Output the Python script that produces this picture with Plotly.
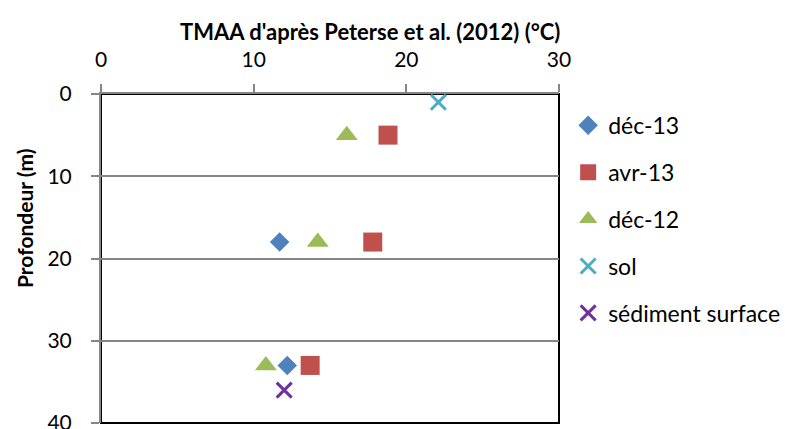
import plotly.graph_objects as go

# TMAA (°C) versus depth (m) for each sampling campaign
series_names = ["déc-13", "avr-13", "déc-12", "sol", "sédiment surface"]
tmaa_dec13 = [11.7, 12.2]
depth_dec13 = [18, 33]
tmaa_avr13 = [18.8, 17.8, 13.7]
depth_avr13 = [5, 18, 33]
tmaa_dec12 = [16.1, 14.2, 10.8]
depth_dec12 = [5, 18, 33]
tmaa_sol = [22.1]
depth_sol = [1]
tmaa_sed = [12.0]
depth_sed = [36]

x_ticks = [0, 10, 20, 30]
y_ticks = [0, 10, 20, 30, 40]

FONT = "Lato"
fig = go.Figure()

styles = [
    (tmaa_dec13, depth_dec13, "diamond", 15, "#4F81BD"),
    (tmaa_avr13, depth_avr13, "square", 19, "#C0504D"),
    (tmaa_dec12, depth_dec12, "triangle-up", 19, "#9BBB59"),
    (tmaa_sol, depth_sol, "x-thin", 15, "#4BACC6"),
    (tmaa_sed, depth_sed, "x-thin", 15, "#7030A0"),
]
for name, (xs, ys, sym, size, col) in zip(series_names, styles):
    marker = dict(symbol=sym, size=size, color=col)
    if sym == "x-thin":
        marker["line"] = dict(color=col, width=3)
    else:
        marker["line"] = dict(width=0)
    fig.add_trace(go.Scatter(x=xs, y=ys, mode="markers", name=name,
                             legendgroup=name, marker=marker))

fig.update_layout(
    width=791, height=429,
    margin=dict(l=101, r=232, t=94, b=6),
    paper_bgcolor="white", plot_bgcolor="white",
    font=dict(family=FONT, size=21, color="black"),
    showlegend=True,
    legend=dict(x=1.02, y=0.97, xanchor="left", yanchor="top",
                font=dict(family=FONT, size=23), tracegroupgap=14,
                itemwidth=30, bgcolor="rgba(0,0,0,0)"),
    xaxis=dict(range=[0, 30], side="top", tickvals=x_ticks, showgrid=False,
               zeroline=False, showline=True, linecolor="#868686", linewidth=2,
               ticks="outside", ticklen=8, tickwidth=2, tickcolor="#868686",
               ticklabelstandoff=9, automargin=False, tickfont=dict(size=21)),
    yaxis=dict(range=[40, 0], tickvals=y_ticks, showgrid=True,
               gridcolor="#868686", gridwidth=2, zeroline=False,
               showline=True, linecolor="#868686", linewidth=2,
               ticks="outside", ticklen=8, tickwidth=2, tickcolor="#868686",
               ticklabelstandoff=15, ticklabeloverflow="allow",
               automargin=False, tickfont=dict(size=21)),
    shapes=[dict(type="rect", xref="paper", yref="paper", x0=0, x1=1, y0=0, y1=1,
                 line=dict(color="black", width=2), layer="below")],
    annotations=[
        dict(text="<b>TMAA d'après Peterse et al. (2012) (°C)</b>", xref="paper",
             yref="paper", x=0.587, y=1.0, yshift=63, xanchor="center",
             yanchor="middle", showarrow=False, font=dict(family=FONT, size=22)),
        dict(text="<b>Profondeur (m)</b>", xref="paper", yref="paper",
             x=0, xshift=-77, y=0.62, textangle=-90, xanchor="center",
             yanchor="middle", showarrow=False, font=dict(family=FONT, size=21)),
    ],
)

fig.write_html("out.html")
